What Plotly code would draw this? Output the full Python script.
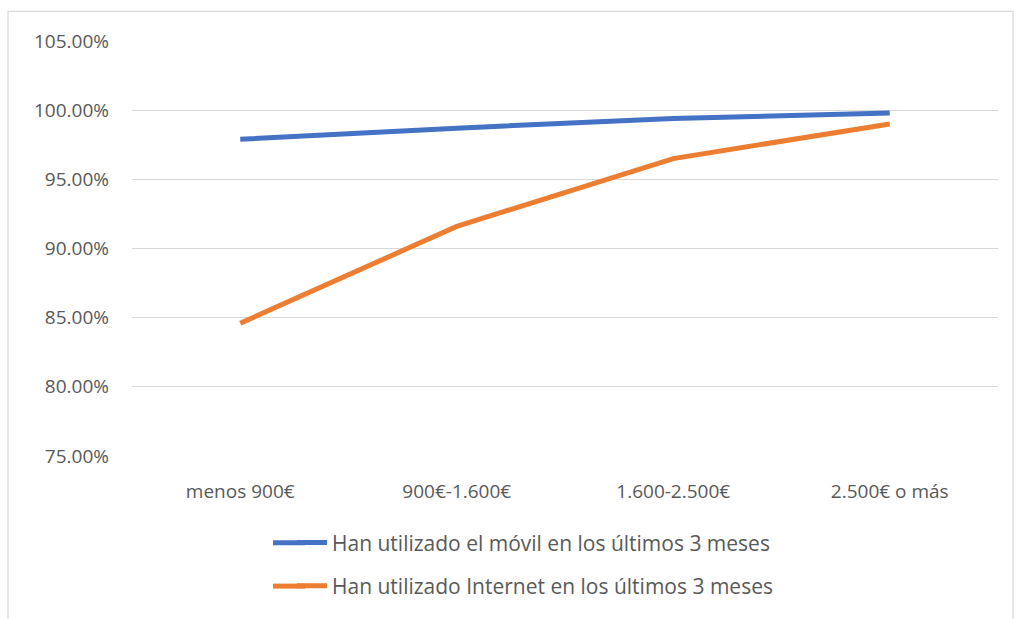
import plotly.graph_objects as go

categories = ["menos 900€", "900€-1.600€", "1.600-2.500€", "2.500€ o más"]
movil = [97.9, 98.7, 99.4, 99.8]
internet = [84.6, 91.6, 96.5, 99.0]
series_names = ["Han utilizado el móvil en los últimos 3 meses",
                "Han utilizado Internet en los últimos 3 meses"]
colors = ["#4472C4", "#ED7D31"]
tick_vals = [75, 80, 85, 90, 95, 100, 105]

FONT = "'Open Sans', Lato, sans-serif"
TXT = "#595959"

W, H = 1015, 619
PL, PT, PW, PH = 132, 41, 866, 421  # plot area in page pixels


def px_x(p):
    return (p - PL) / PW


def px_y(p):
    return (PT + PH - p) / PH


fig = go.Figure()
fig.add_trace(go.Scatter(x=categories, y=movil, mode="lines", name=series_names[0],
                         line=dict(color=colors[0], width=5), legend="legend", showlegend=True))
fig.add_trace(go.Scatter(x=categories, y=internet, mode="lines", name=series_names[1],
                         line=dict(color=colors[1], width=5), legend="legend2", showlegend=True))

leg_common = dict(xanchor="left", yanchor="middle",
                  font=dict(size=21, color=TXT), bgcolor="rgba(0,0,0,0)", visible=True)
leg_y = [550, 594]

shapes = [dict(type="rect", xref="paper", yref="paper",
               x0=px_x(8), x1=px_x(1013), y0=px_y(640), y1=px_y(11),
               line=dict(color="#D9D9D9", width=1.3), layer="below")]
# lengthen the legend line samples to the left
for c, yy in zip(colors, leg_y):
    shapes.append(dict(type="line", xref="paper", yref="paper",
                       x0=px_x(273), x1=px_x(305), y0=px_y(yy), y1=px_y(yy),
                       line=dict(color=c, width=5)))

fig.update_layout(
    width=W, height=H,
    margin=dict(l=PL, r=W - PL - PW, t=PT, b=H - PT - PH),
    paper_bgcolor="white", plot_bgcolor="white",
    font=dict(family=FONT, size=18, color=TXT),
    showlegend=True,
    xaxis=dict(type="category", range=[-0.5, 3.5], showgrid=False, showline=False,
               ticks="", tickfont=dict(size=19, color=TXT), automargin=False,
               ticklabelstandoff=22),
    yaxis=dict(range=[75, 105], tickvals=tick_vals, ticktext=[f"{v:.2f}%" for v in tick_vals],
               showgrid=True, gridcolor="#D9D9D9", gridwidth=1.3, zeroline=False,
               showline=False, ticks="", tickfont=dict(size=19, color=TXT), automargin=False,
               ticklabelstandoff=22),
    legend=dict(x=px_x(292), y=px_y(leg_y[0]), **leg_common),
    legend2=dict(x=px_x(292), y=px_y(leg_y[1]), **leg_common),
    shapes=shapes,
)

post = ("document.documentElement.style.margin='0';document.body.style.margin='0';"
        "document.documentElement.style.overflow='hidden';document.body.style.overflow='hidden';")
fig.write_html("out.html", post_script=post, config={"displayModeBar": False})
